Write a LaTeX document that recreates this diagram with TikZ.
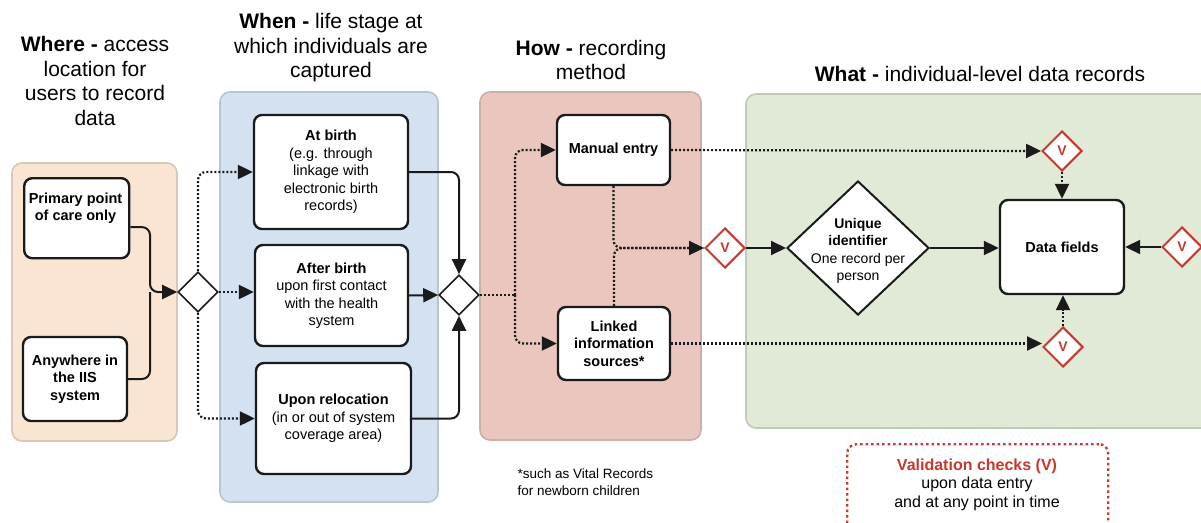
\documentclass[tikz,border=0pt]{standalone}
\usepackage{fontspec}
\setmainfont{Liberation Sans}
\usetikzlibrary{shapes.geometric,arrows.meta,calc}

\definecolor{wherefill}{HTML}{F9E5D2}
\definecolor{whereline}{HTML}{D6C8BA}
\definecolor{whenfill}{HTML}{D4E1F1}
\definecolor{whenline}{HTML}{B8C5D4}
\definecolor{howfill}{HTML}{EAC6BE}
\definecolor{howline}{HTML}{C9B1AB}
\definecolor{whatfill}{HTML}{E1EAD7}
\definecolor{whatline}{HTML}{C2C9BA}
\definecolor{vred}{HTML}{C8382D}
\definecolor{ink}{HTML}{1A1A1A}

\tikzset{
  x=1pt, y=-1pt,
  panel/.style={rounded corners=10pt, line width=1.6pt},
  stepbox/.style={draw=ink, fill=white, line width=2.4pt, rounded corners=8pt,
    align=center, inner sep=2pt, font=\fontsize{14.5}{17.5}\selectfont},
  gate/.style={diamond, draw=ink, fill=white, line width=1.6pt,
    minimum width=40pt, minimum height=40pt, inner sep=0pt},
  vgate/.style={diamond, draw=vred, fill=white, line width=2pt,
    minimum width=40pt, minimum height=40pt, inner sep=0pt,
    text=vred, font=\fontsize{14}{14}\selectfont\bfseries},
  title/.style={align=center, font=\fontsize{21}{24.5}\selectfont},
  tip/.style={-{Triangle[length=15pt,width=14pt]}},
  solidc/.style={draw=ink, line width=2pt, rounded corners=8pt},
  dotc/.style={draw=ink, line width=2.2pt, dash pattern=on 2pt off 2pt, rounded corners=8pt},
}

\begin{document}
\begin{tikzpicture}
\clip (0,0) rectangle (1201,522);
\fill[white] (0,0) rectangle (1201,522);

% background panels
\draw[panel, fill=wherefill, draw=whereline] (12,163) rectangle (177,441);
\draw[panel, fill=whenfill, draw=whenline] (220,92) rectangle (438,502);
\draw[panel, fill=howfill, draw=howline] (480,92) rectangle (701,440);
\draw[panel, fill=whatfill, draw=whatline] (746,94) rectangle (1230,428);

% column headings
\node[title] (tWhere) at (95,81) {\textbf{Where -} access\\location for\\users to record\\data};
\node[title] (tWhen) at (331,48) {\textbf{When -} life stage at\\which individuals are\\captured};
\node[title] (tHow) at (591,60) {\textbf{How -} recording\\method};
\node[title] (tWhat) at (980,74) {\textbf{What -} individual-level data records};

% where
\node[stepbox, minimum width=105pt, minimum height=80pt, anchor=north west] (pp) at (23,177) {};
\node[font=\fontsize{14.5}{17.5}\selectfont\bfseries, align=center, anchor=north] (ppt) at (75.5,189) {Primary point\\of care only};
\node[stepbox, minimum width=104pt, minimum height=84pt, font=\fontsize{14.5}{17.5}\selectfont\bfseries] (any) at (75,379) {Anywhere in\\the IIS\\system};
\node[gate] (d1) at (198,292) {};

% when
\node[stepbox, minimum width=154pt, minimum height=114pt] (ab) at (331,172) {\textbf{At birth}\\(e.g. through\\linkage with\\electronic birth\\records)};
\node[stepbox, minimum width=153pt, minimum height=101pt] (af) at (331.5,295.5) {\textbf{After birth}\\upon first contact\\with the health\\system};
\node[stepbox, minimum width=155pt, minimum height=111pt] (rel) at (333.5,418.5) {\textbf{Upon relocation}\\(in or out of system\\coverage area)};
\node[gate] (d2) at (459,295) {};

% how
\node[stepbox, minimum width=113pt, minimum height=70pt, font=\fontsize{14.5}{17.5}\selectfont\bfseries] (man) at (613.5,150) {Manual entry};
\node[stepbox, minimum width=112pt, minimum height=73pt, font=\fontsize{14.5}{17.5}\selectfont\bfseries] (lnk) at (614,343.5) {Linked\\information\\sources*};
\node[align=left, anchor=north west, font=\fontsize{13.5}{17}\selectfont] (note) at (514,465) {*such as Vital Records\\for newborn children};

% what
\node[vgate] (v1) at (725,248) {V};
\node[diamond, draw=ink, fill=white, line width=2pt, minimum width=142pt, minimum height=134pt, inner sep=0pt] (uid) at (858,248) {};
\node[align=center, font=\fontsize{14}{17.5}\selectfont] (uidt) at (858,251) {\textbf{Unique}\\\textbf{identifier}\\One record per\\person};
\node[stepbox, minimum width=124pt, minimum height=94pt, font=\fontsize{14.5}{17.5}\selectfont\bfseries] (df) at (1062,247) {Data fields};
\node[vgate] (vt) at (1062,151) {V};
\node[vgate] (vb) at (1063,347) {V};
\node[vgate] (vr) at (1182,247) {V};

% legend
\node[draw=vred, line width=2.4pt, dash pattern=on 2.5pt off 3pt, rounded corners=9pt,
      minimum width=261pt, minimum height=90pt, anchor=north west] (leg) at (846,443) {};
\node[align=center, font=\fontsize{16}{18.5}\selectfont, anchor=north] (legt) at (977,455)
  {\textcolor{vred}{\textbf{Validation checks (V)}}\\upon data entry\\and at any point in time};

% where -> when gateway
\coordinate (j1) at (150,292);
\draw[solidc, tip] (pp.east |- ppt.south) -| (j1) -- (d1.west);
\draw[solidc] (any.east) -| (j1);

% gateway -> life stages
\draw[dotc, tip] (d1.north) |- (ab.west);
\draw[dotc, tip] (d1.east) -- (d1.east -| af.west);
\draw[dotc, tip] (d1.south) |- (rel.west);

% life stages -> gateway
\draw[solidc, tip] (ab.east) -| (d2.north);
\draw[solidc, tip] (af.east) -- (d2.west);
\draw[solidc, tip] (rel.east) -| (d2.south);

% gateway -> recording methods
\coordinate (j2) at (515,295);
\draw[dotc] (d2.east) -- (j2);
\draw[dotc, tip] (j2) |- (man.west);
\draw[dotc, tip] (j2) |- (lnk.west);

% recording methods -> validation
\draw[dotc, tip] (man.south) |- (v1.west);
\draw[dotc] (lnk.north) |- (v1.west);
\draw[dotc, tip] (man.east) -- (vt.west);
\draw[dotc, tip] (lnk.east) -- (lnk.east -| vb.west);

% into the data record
\draw[solidc, tip] (v1.east) -- (uid.west);
\draw[solidc, tip] (uid.east) -- (uid.east -| df.west);
\draw[dotc, tip] (vt.south) -- (df.north);
\draw[dotc, tip] (vb.north) -- (vb.north |- df.south);
\draw[solidc, tip] (vr.west) -- (vr.west -| df.east);
\end{tikzpicture}
\end{document}
